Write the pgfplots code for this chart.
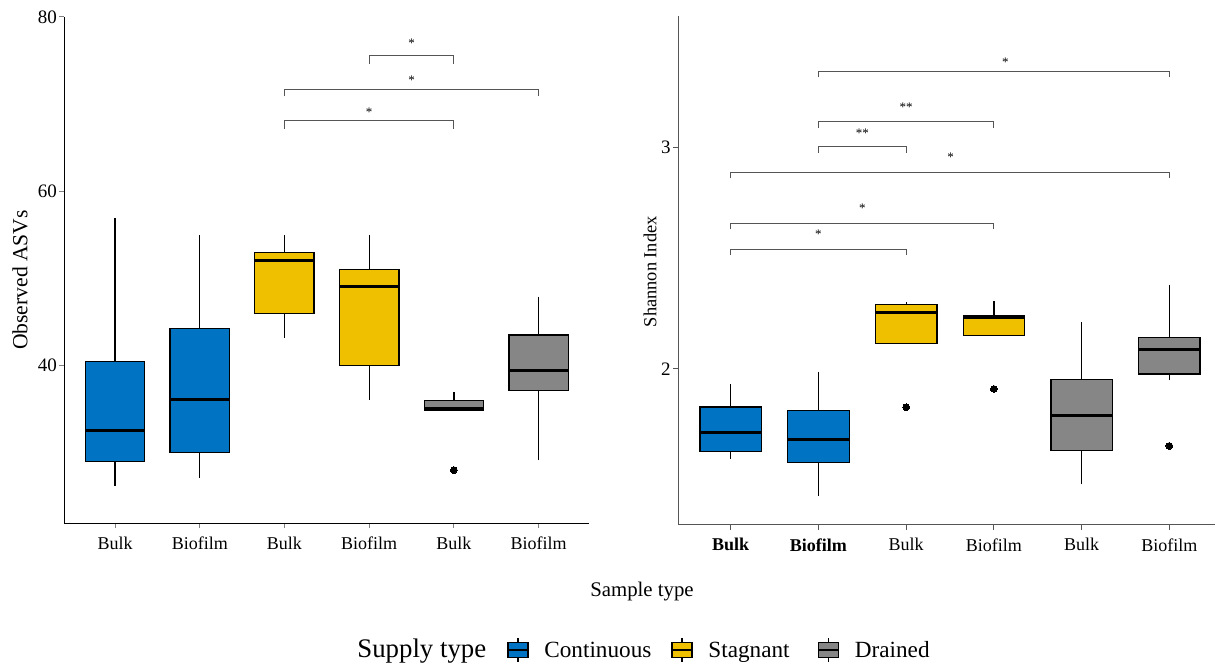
\documentclass[border=0pt]{standalone}
\usepackage{fontspec}
\setmainfont{Liberation Serif}
\usepackage{pgfplots}
\pgfplotsset{compat=1.18}
\usepgfplotslibrary{statistics}
\definecolor{cblue}{HTML}{0073C2}
\definecolor{cyellow}{HTML}{EFC000}
\definecolor{cgray}{HTML}{868686}
\definecolor{brk}{HTML}{555555}
\pgfplotsset{
  bx/.style={boxplot/draw direction=y, boxplot/box extend=0.7, boxplot/whisker extend=0,
    boxplot/every median/.style={line width=1.5pt},
    boxplot/every whisker/.style={line width=0.65pt},
    draw=black, fill=#1, line width=0.65pt, solid,
    mark=*, mark size=1.7pt, mark options={fill=black, draw=black, line width=0pt}},
  br/.style={brk, line width=0.5pt, mark=none, sharp plot},
  base/.style={scale only axis, axis lines*=left, tick align=outside, major tick length=2.5pt,
    xtick={1,...,6}, xmin=0.4, clip=false,
    tick style={line width=0.5pt},
    /pgf/number format/assume math mode=true,
    yticklabel style={font=\fontsize{9.5}{10}\selectfont, inner sep=1pt},
    xticklabel style={font=\fontsize{9}{10}\selectfont, inner sep=1pt, yshift=-3pt},
    axis line style={line width=0.5pt}}
}
\newcommand{\st}{\fontsize{6.5}{7}\selectfont}
\begin{document}
\begin{tikzpicture}
\useasboundingbox (0,0) rectangle (607.5pt,332pt);
% ---------------- left panel
\begin{axis}[base, at={(32.1pt,70.35pt)}, anchor=south west, width=262.65pt, height=253.15pt,
  xmax=6.6, ymin=21.89, ymax=80, ytick={40,60,80},
  xticklabels={Bulk,Biofilm,Bulk,Biofilm,Bulk,Biofilm}]
\addplot[bx=cblue, boxplot prepared={draw position=1, lower whisker=26.2, lower quartile=29.0, median=32.5, upper quartile=40.5, upper whisker=56.9}] coordinates {};
\addplot[bx=cblue, boxplot prepared={draw position=2, lower whisker=27.1, lower quartile=30.0, median=36.06, upper quartile=44.25, upper whisker=55.0}] coordinates {};
\addplot[bx=cyellow, boxplot prepared={draw position=3, lower whisker=43.15, lower quartile=46.0, median=52.03, upper quartile=53.0, upper whisker=55.0}] coordinates {};
\addplot[bx=cyellow, boxplot prepared={draw position=4, lower whisker=36.06, lower quartile=40.0, median=49.08, upper quartile=51.0, upper whisker=55.0}] coordinates {};
\addplot[bx=cgray, boxplot prepared={draw position=5, lower whisker=34.9, lower quartile=34.9, median=35.05, upper quartile=35.96, upper whisker=37.0}] table[row sep=\\, y index=0] {data\\ 28.0\\};
\addplot[bx=cgray, boxplot prepared={draw position=6, lower whisker=29.1, lower quartile=37.1, median=39.47, upper quartile=43.5, upper whisker=47.9}] coordinates {};
% brackets
\addplot[br] coordinates {(4,74.6) (4,75.55) (5,75.55) (5,74.6)};
\addplot[br] coordinates {(3,70.9) (3,71.7) (6,71.7) (6,70.9)};
\addplot[br] coordinates {(3,67.2) (3,68.08) (5,68.08) (5,67.2)};
\node[font=\st] at (axis cs:4.5,77.0) {*};
\node[font=\st] at (axis cs:4.5,72.7) {*};
\node[font=\st] at (axis cs:4,69.1) {*};
\end{axis}
% ---------------- right panel
\begin{axis}[base, at={(339.05pt,69.5pt)}, anchor=south west, width=268.45pt, height=254.7pt,
  xmax=6.521, ymin=1.2963, ymax=3.594, ytick={2,3},
  axis line style={brk, line width=0.5pt}, tick style={brk, line width=0.5pt},
  xticklabels={\bfseries Bulk,\bfseries Biofilm,Bulk,Biofilm,Bulk,Biofilm}]
\addplot[bx=cblue, boxplot prepared={draw position=1, lower whisker=1.594, lower quartile=1.627, median=1.714, upper quartile=1.829, upper whisker=1.932}] coordinates {};
\addplot[bx=cblue, boxplot prepared={draw position=2, lower whisker=1.429, lower quartile=1.579, median=1.680, upper quartile=1.813, upper whisker=1.988}] coordinates {};
\addplot[bx=cyellow, boxplot prepared={draw position=3, lower whisker=2.116, lower quartile=2.116, median=2.253, upper quartile=2.29, upper whisker=2.30}] table[row sep=\\, y index=0] {data\\ 1.827\\};
\addplot[bx=cyellow, boxplot prepared={draw position=4, lower whisker=2.152, lower quartile=2.152, median=2.231, upper quartile=2.242, upper whisker=2.308}] table[row sep=\\, y index=0] {data\\ 1.910\\};
\addplot[bx=cgray, boxplot prepared={draw position=5, lower whisker=1.48, lower quartile=1.631, median=1.791, upper quartile=1.952, upper whisker=2.213}] coordinates {};
\addplot[bx=cgray, boxplot prepared={draw position=6, lower whisker=1.950, lower quartile=1.977, median=2.090, upper quartile=2.143, upper whisker=2.38}] table[row sep=\\, y index=0] {data\\ 1.653\\};
% brackets
\addplot[br] coordinates {(2,3.317) (2,3.344) (6,3.344) (6,3.317)};
\addplot[br] coordinates {(2,3.088) (2,3.115) (4,3.115) (4,3.088)};
\addplot[br] coordinates {(2,2.976) (2,3.003) (3,3.003) (3,2.976)};
\addplot[br] coordinates {(1,2.860) (1,2.887) (6,2.887) (6,2.860)};
\addplot[br] coordinates {(1,2.630) (1,2.657) (4,2.657) (4,2.630)};
\addplot[br] coordinates {(1,2.514) (1,2.541) (3,2.541) (3,2.514)};
\node[font=\st] at (axis cs:4.13,3.385) {*};
\node[font=\st] at (axis cs:3,3.182) {**};
\node[font=\st] at (axis cs:2.5,3.065) {**};
\node[font=\st] at (axis cs:3.508,2.953) {*};
\node[font=\st] at (axis cs:2.5,2.726) {*};
\node[font=\st] at (axis cs:2,2.610) {*};
\end{axis}
% ---------------- axis titles
\node[rotate=90, font=\fontsize{10.8}{12}\selectfont] at (10pt,192pt) {Observed ASVs};
\node[rotate=90, font=\fontsize{9.2}{11}\selectfont] at (325pt,196.15pt) {Shannon Index};
\node[font=\fontsize{10.4}{12}\selectfont] at (321pt,36.15pt) {Sample type};
% ---------------- legend
\node[anchor=base west, inner sep=0pt, font=\fontsize{13.4}{15}\selectfont] at (178.5pt,3.5pt) {Supply type};
\foreach \cx/\col/\lab in {259/cblue/Continuous, 341/cyellow/Stagnant, 414.25/cgray/Drained}{
  \draw[line width=0.6pt] (\cx pt,1pt) -- (\cx pt,13pt);
  \draw[fill=\col, line width=0.65pt] (\cx pt-5pt,3.2pt) rectangle (\cx pt+5pt,10.8pt);
  \draw[line width=1.2pt] (\cx pt-5pt,7pt) -- (\cx pt+5pt,7pt);
  \node[anchor=base west, inner sep=0pt, font=\fontsize{11.6}{13}\selectfont] at (\cx pt+13pt,3.5pt) {\lab};
}
\end{tikzpicture}
\end{document}
